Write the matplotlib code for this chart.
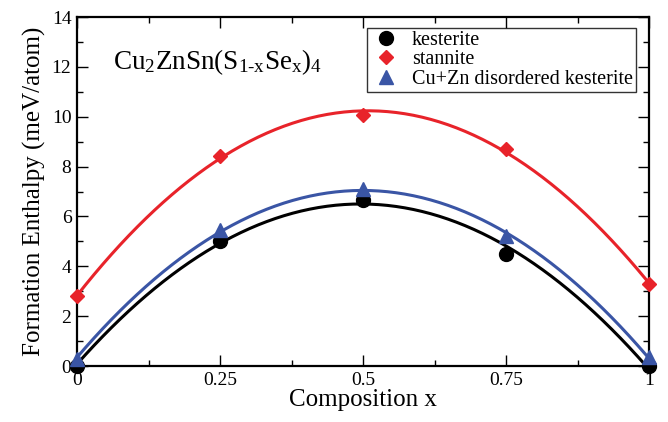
import matplotlib
matplotlib.use("Agg")

import numpy as np
import matplotlib.pyplot as plt
from matplotlib.ticker import MultipleLocator

plt.rcParams["font.family"] = "Liberation Serif"
plt.rcParams["mathtext.fontset"] = "custom"
plt.rcParams["mathtext.rm"] = "Liberation Serif"
plt.rcParams["mathtext.it"] = "Liberation Serif:italic"

x = [0.0, 0.25, 0.5, 0.75, 1.0]
kesterite = [0.0, 5.02, 6.66, 4.5, 0.0]
stannite = [2.8, 8.44, 10.05, 8.7, 3.29]
disordered = [0.3, 5.45, 7.1, 5.2, 0.37]

labels = ["kesterite", "stannite", "Cu+Zn disordered kesterite"]
colors = ["black", "#e8232a", "#3a55a5"]
markers = ["o", "D", "^"]
msizes = [10, 7, 9.5]

fig = plt.figure(figsize=(6.68, 4.22), dpi=100)
ax = fig.add_axes([0.1153, 0.1327, 0.8563, 0.827])

# quadratic fit through each set of points
xf = np.linspace(0, 1, 200)
for ys, c in zip([kesterite, stannite, disordered], colors):
    p = np.polyfit(x, ys, 2)
    ax.plot(xf, np.polyval(p, xf), color=c, linewidth=2.2, zorder=2)

for ys, c, m, ms, lab in zip([kesterite, stannite, disordered], colors, markers, msizes, labels):
    ax.plot(x, ys, linestyle="none", marker=m, color=c, markersize=ms,
            label=lab, clip_on=False, zorder=3)

ax.set_xlim(0, 1)
ax.set_ylim(0, 14)
ax.set_xticks([0, 0.25, 0.5, 0.75, 1])
ax.set_xticklabels(["0", "0.25", "0.5", "0.75", "1"])
ax.xaxis.set_minor_locator(MultipleLocator(0.125))
ax.set_yticks(range(0, 15, 2))
ax.yaxis.set_minor_locator(MultipleLocator(1))

ax.tick_params(which="both", direction="in", top=True, right=True, labelsize=14, pad=4)
ax.tick_params(which="major", length=8, width=1)
ax.tick_params(which="minor", length=4, width=1)
for s in ax.spines.values():
    s.set_linewidth(1.6)

ax.set_xlabel("Composition x", fontsize=18, labelpad=0)
ax.set_ylabel("Formation Enthalpy (meV/atom)", fontsize=18, labelpad=4)

ax.text(0.063, 0.85, r"Cu$_2$ZnSn(S$_{\text{1-x}}$Se$_\mathrm{x}$)$_4$",
        transform=ax.transAxes, fontsize=19.5)

leg = ax.legend(loc="upper right", bbox_to_anchor=(0.988, 0.985), fontsize=14.5,
                frameon=True, fancybox=False, edgecolor="black",
                handletextpad=0.5, borderpad=0.15, labelspacing=0.0,
                handlelength=1.6, borderaxespad=0.3)
leg.get_frame().set_linewidth(1.0)

plt.savefig("out.png", dpi=100)
plt.close(fig)
